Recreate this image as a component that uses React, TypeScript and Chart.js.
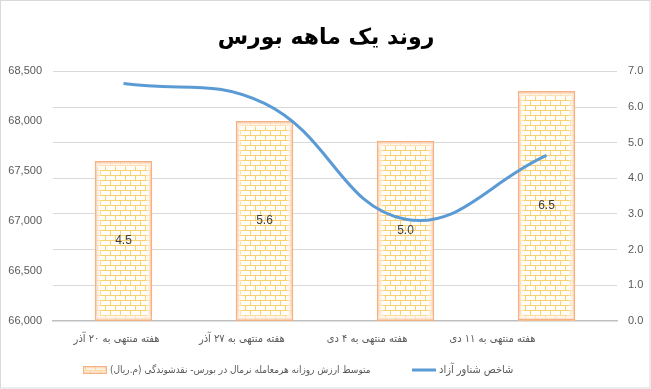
import { useEffect, useRef } from 'react';
import { Chart, registerables } from 'chart.js';

Chart.register(...registerables);

const titleText = 'روند یک ماهه بورس';
const categories = [
  'هفته منتهی به ۲۰ آذر',
  'هفته منتهی به ۲۷ آذر',
  'هفته منتهی به ۴ دی',
  'هفته منتهی به ۱۱ دی',
];
const barSeriesName = 'متوسط ارزش روزانه هرمعامله نرمال در بورس- نقدشوندگی (م.ریال)';
const lineSeriesName = 'شاخص شناور آزاد';
const barValues = [67600, 68000, 67800, 68300];
const barLabels = ['4.5', '5.6', '5.0', '6.5'];
const lineValues = [6.66, 6.1, 2.85, 4.64];
const leftAxisTicks = [66000, 66500, 67000, 67500, 68000, 68500];
const rightAxisTicks = [0, 1, 2, 3, 4, 5, 6, 7];

const TEXT_GRAY = '#595959';
const ARABIC_FONT = '"DejaVu Sans", sans-serif';
const ARABIC_COND = '"DejaVu Sans Condensed", "DejaVu Sans", sans-serif';
const NUM_FONT = '"Liberation Sans", Arial, sans-serif';

function makeBrickPattern(ctx: CanvasRenderingContext2D) {
  const c = document.createElement('canvas');
  c.width = 10;
  c.height = 10;
  const g = c.getContext('2d')!;
  g.fillStyle = '#fffdf8';
  g.fillRect(0, 0, 10, 10);
  g.fillStyle = '#f9d070';
  g.fillRect(0, 0, 10, 1);
  g.fillRect(0, 5, 10, 1);
  g.fillRect(0, 0, 1, 5);
  g.fillRect(5, 5, 1, 5);
  return ctx.createPattern(c, 'repeat')!;
}

const barDecorPlugin = {
  id: 'barDecor',
  afterDatasetDraw(chart: any, args: any) {
    const meta = args.meta;
    if (meta.type !== 'bar') return;
    const ctx: CanvasRenderingContext2D = chart.ctx;
    const area = chart.chartArea;
    meta.data.forEach((el: any, i: number) => {
      const left = el.x - el.width / 2;
      const right = el.x + el.width / 2;
      const top = Math.max(el.y, area.top);
      const bottom = Math.min(el.base, area.bottom);
      const g = 7;
      const edge = 'rgba(246,178,128,0.95)';
      const mid = 'rgba(255,238,226,0.75)';
      const clear = 'rgba(255,255,255,0)';
      ctx.save();
      let gr = ctx.createLinearGradient(left, 0, left + g, 0);
      gr.addColorStop(0, edge); gr.addColorStop(0.45, mid); gr.addColorStop(1, clear);
      ctx.fillStyle = gr; ctx.fillRect(left, top, g, bottom - top);
      gr = ctx.createLinearGradient(right, 0, right - g, 0);
      gr.addColorStop(0, edge); gr.addColorStop(0.45, mid); gr.addColorStop(1, clear);
      ctx.fillStyle = gr; ctx.fillRect(right - g, top, g, bottom - top);
      gr = ctx.createLinearGradient(0, top, 0, top + g);
      gr.addColorStop(0, edge); gr.addColorStop(0.45, mid); gr.addColorStop(1, clear);
      ctx.fillStyle = gr; ctx.fillRect(left, top, right - left, g);
      gr = ctx.createLinearGradient(0, bottom, 0, bottom - g);
      gr.addColorStop(0, edge); gr.addColorStop(0.45, mid); gr.addColorStop(1, clear);
      ctx.fillStyle = gr; ctx.fillRect(left, bottom - g, right - left, g);
      ctx.strokeStyle = '#f4b183';
      ctx.lineWidth = 1;
      ctx.strokeRect(Math.round(left) + 0.5, Math.round(top) + 0.5, Math.round(right - left) - 1, Math.round(bottom - top) - 1);
      ctx.fillStyle = '#404040';
      ctx.font = '12px ' + NUM_FONT;
      ctx.textAlign = 'center';
      ctx.textBaseline = 'middle';
      ctx.fillText(barLabels[i], el.x, (top + bottom) / 2);
      ctx.restore();
    });
  },
};

// Category labels: drawn from the x scale's own tick positions, with the
// slight leftward drift the original spreadsheet renderer shows.
const categoryLabelPlugin = {
  id: 'categoryLabels',
  afterDraw(chart: any) {
    const scale = chart.scales.x;
    const ctx: CanvasRenderingContext2D = chart.ctx;
    ctx.save();
    ctx.font = '11px ' + ARABIC_COND;
    ctx.direction = 'rtl';
    ctx.fillStyle = TEXT_GRAY;
    ctx.textAlign = 'center';
    ctx.textBaseline = 'middle';
    const y = chart.chartArea.bottom + 18;
    scale.ticks.forEach((t: any, i: number) => {
      const label = chart.data.labels[t.value];
      const x = scale.getPixelForTick(i) - 7 - i * 15.7;
      ctx.fillText(label, x, y);
    });
    ctx.restore();
  },
};

const legendAndFramePlugin = {
  id: 'customLegend',
  afterDraw(chart: any) {
    const ctx: CanvasRenderingContext2D = chart.ctx;
    const ds = chart.data.datasets;
    const barDs = ds.find((d: any) => d.type === 'bar');
    const lineDs = ds.find((d: any) => d.type === 'line');
    ctx.save();
    ctx.direction = 'rtl';
    const cy = 370;
    const sw = 24;
    let x = 83;
    ctx.fillStyle = barDs.backgroundColor;
    ctx.fillRect(x, cy - 4, sw, 8);
    const gr = ctx.createLinearGradient(0, cy - 4, 0, cy + 4);
    gr.addColorStop(0, 'rgba(246,178,128,0.9)');
    gr.addColorStop(0.5, 'rgba(255,238,226,0.3)');
    gr.addColorStop(1, 'rgba(246,178,128,0.9)');
    ctx.fillStyle = gr;
    ctx.fillRect(x, cy - 4, sw, 8);
    ctx.strokeStyle = '#f4b183';
    ctx.lineWidth = 1;
    ctx.strokeRect(x + 0.5, cy - 3.5, sw - 1, 7);
    ctx.fillStyle = TEXT_GRAY;
    ctx.textAlign = 'left';
    ctx.textBaseline = 'middle';
    ctx.font = '10px ' + ARABIC_COND;
    ctx.fillText(barDs.label, 110, cy);
    x = 412;
    ctx.strokeStyle = lineDs.borderColor;
    ctx.lineWidth = 3;
    ctx.beginPath();
    ctx.moveTo(x, cy);
    ctx.lineTo(x + sw, cy);
    ctx.stroke();
    ctx.font = '11px ' + ARABIC_COND;
    ctx.fillText(lineDs.label, 439, cy);
    ctx.strokeStyle = '#d9d9d9';
    ctx.lineWidth = 1;
    ctx.strokeRect(0.5, 0.5, chart.width - 1.5, chart.height - 1.5);
    ctx.restore();
  },
};

export default function App() {
  const ref = useRef<HTMLCanvasElement>(null);
  useEffect(() => {
    const canvas = ref.current!;
    const ctx = canvas.getContext('2d')!;
    const pattern = makeBrickPattern(ctx);
    const chart = new Chart(canvas, {
      type: 'bar',
      data: {
        labels: categories,
        datasets: [
          {
            type: 'line',
            label: lineSeriesName,
            data: lineValues,
            yAxisID: 'y1',
            borderColor: '#5b9bd5',
            backgroundColor: '#5b9bd5',
            borderWidth: 3,
            tension: 0.42,
            pointRadius: 0,
            fill: false,
          },
          {
            type: 'bar',
            label: barSeriesName,
            data: barValues,
            yAxisID: 'y',
            base: leftAxisTicks[0],
            backgroundColor: pattern as any,
            borderWidth: 0,
            categoryPercentage: 1,
            barPercentage: 0.405,
          },
        ],
      } as any,
      options: {
        responsive: false,
        animation: false,
        events: [],
        layout: { padding: { left: 7, right: 6, top: 0, bottom: 39 } },
        plugins: {
          legend: { display: false },
          tooltip: { enabled: false },
          title: {
            display: true,
            text: titleText,
            color: '#000',
            font: { family: ARABIC_FONT, size: 22, weight: 'bold' },
            padding: { top: 25, bottom: 20 },
          },
        },
        scales: {
          x: {
            grid: { display: false },
            border: { display: true, color: '#bfbfbf', width: 1.5 },
            afterFit: (scale: any) => {
              scale.paddingLeft = 0;
              scale.paddingRight = 0;
            },
            ticks: {
              color: 'rgba(0,0,0,0)',
              font: { family: ARABIC_COND, size: 11 },
              padding: 4,
              maxRotation: 0,
            },
          },
          y: {
            position: 'left',
            min: leftAxisTicks[0],
            max: leftAxisTicks[leftAxisTicks.length - 1],
            afterBuildTicks: (axis: any) => {
              axis.ticks = leftAxisTicks.map((v) => ({ value: v }));
            },
            afterFit: (scale: any) => {
              scale.width = 46;
            },
            grid: { display: false, drawTicks: false },
            border: { display: false },
            ticks: {
              color: TEXT_GRAY,
              font: { family: NUM_FONT, size: 11 },
              padding: 11,
              callback: (v: any) => Number(v).toLocaleString('en-US'),
            },
          },
          y1: {
            position: 'right',
            min: rightAxisTicks[0],
            max: rightAxisTicks[rightAxisTicks.length - 1],
            afterBuildTicks: (axis: any) => {
              axis.ticks = rightAxisTicks.map((v) => ({ value: v }));
            },
            afterFit: (scale: any) => {
              scale.width = 28;
            },
            grid: { display: true, color: '#d9d9d9', lineWidth: 1, drawTicks: false },
            border: { display: false },
            ticks: {
              color: TEXT_GRAY,
              font: { family: NUM_FONT, size: 11 },
              padding: 11,
              callback: (v: any) => Number(v).toFixed(1),
            },
          },
        },
      } as any,
      plugins: [barDecorPlugin, categoryLabelPlugin, legendAndFramePlugin],
    });
    return () => chart.destroy();
  }, []);
  return (
    <div style={{ position: 'fixed', left: 0, top: 0, width: 651, height: 389, background: '#fff' }}>
      <canvas ref={ref} width={651} height={389} style={{ display: 'block' }} />
    </div>
  );
}
